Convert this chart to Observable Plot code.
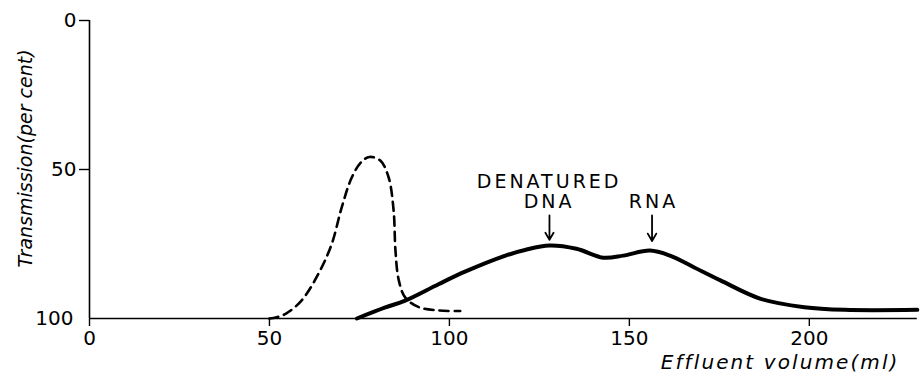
<!DOCTYPE html>
<html>
<head>
<meta charset="utf-8">
<script src="https://cdn.jsdelivr.net/npm/d3@7"></script>
<script src="https://cdn.jsdelivr.net/npm/@observablehq/plot@0.6"></script>
<style>
  html, body { margin: 0; padding: 0; background: #fff; }
  #chart { width: 922px; height: 380px; }
  svg { font-family: "DejaVu Sans", sans-serif; }
  [aria-label="peak-labels"], [aria-label="peak-labels"] text, [aria-label="peak-labels"] tspan { letter-spacing: 3px; }
  [aria-label="x-title"], [aria-label="x-title"] text, [aria-label="x-title"] tspan { letter-spacing: 2.1px; }
</style>
</head>
<body>
<div id="chart"></div>
<script>
// Dashed curve (native / undenatured component)
const dashedX = [50, 52, 54.7, 58.9, 63.6, 67.3, 70.1, 72.9, 75.5, 77.8, 80.8, 83.1, 84.5, 85.0, 85.9, 87.7, 91.5, 97, 103];
const dashedY = [100, 99.6, 98.3, 94, 85, 75, 62.6, 52.6, 47.5, 45.8, 47, 52.6, 63.8, 77, 87, 92.9, 96.2, 97.3, 97.5];

// Solid curve (denatured DNA + RNA)
const solidX = [74.3, 82.2, 87.7, 97.1, 104.5, 115.6, 121, 127.8, 135.3, 142.7, 148.3, 155.7, 161.3, 167.9, 175.3, 186.5, 198.6, 209.8, 230];
const solidY = [100, 96.3, 94, 88.4, 84.2, 78.9, 77, 75.5, 76.6, 79.6, 78.9, 77.2, 78.9, 82.8, 87.2, 93.4, 96.2, 97.1, 97.1];

// Axis ticks
const xTicks = [0, 50, 100, 150, 200];
const yTicks = [0, 50, 100];

// Annotations
const annotLabels = [
  {x: 127.7, y: 62.8, text: "DENATURED\nDNA"},
  {x: 156.7, y: 62.8, text: "RNA"}
];
const arrows = [
  {x: 127.8, y1: 65.4, y2: 73.6},
  {x: 156.3, y1: 65.4, y2: 74.0}
];

const dashed = dashedX.map((x, i) => ({x, y: dashedY[i]}));
const solid = solidX.map((x, i) => ({x, y: solidY[i]}));

const plot = Plot.plot({
  width: 922,
  height: 380,
  marginLeft: 89,
  marginTop: 20,
  marginBottom: 62,
  marginRight: 7,
  style: {fontSize: "20px", color: "#000", background: "#fff"},
  x: {domain: [0, 229.5]},
  y: {domain: [0, 100], reverse: true},
  marks: [
    Plot.ruleY([100], {stroke: "#000", strokeWidth: 1.6, x1: 0, x2: 230}),
    Plot.ruleX([0], {stroke: "#000", strokeWidth: 1.6}),
    Plot.axisX({ticks: xTicks, tickSize: 8, tickPadding: 4, label: null, fontSize: 20, strokeWidth: 1.4}),
    Plot.axisY({ticks: yTicks.filter(d => d < 100), tickSize: 10, tickPadding: 3, label: null, fontSize: 20, strokeWidth: 1.4}),
    Plot.axisY({ticks: yTicks.filter(d => d === 100), tickSize: 0, tickPadding: 16, label: null, fontSize: 20}),
    Plot.line(dashed, {x: "x", y: "y", curve: "catmull-rom", stroke: "#000", strokeWidth: 2.6, strokeDasharray: "9,6"}),
    Plot.line(solid, {x: "x", y: "y", curve: "catmull-rom", stroke: "#000", strokeWidth: 4}),
    Plot.text(annotLabels, {x: "x", y: "y", text: "text", fontSize: 19, lineHeight: 1.05, lineAnchor: "bottom", textAnchor: "middle", fill: "#000", ariaLabel: () => "peak-labels"}),
    Plot.arrow(arrows, {x: "x", y1: "y1", y2: "y2", stroke: "#000", strokeWidth: 1.8, headLength: 10, headAngle: 60}),
    Plot.text(["Transmission(per cent)"], {frameAnchor: "left", dx: -64, dy: -11, rotate: -90, fontSize: 19, fontStyle: "italic", fill: "#000", textAnchor: "middle"}),
    Plot.text(["Effluent volume(ml)"], {frameAnchor: "bottom-right", dx: -16, dy: 50, fontSize: 20, fontStyle: "italic", fill: "#000", textAnchor: "end", ariaLabel: () => "x-title"})
  ]
});
document.getElementById("chart").appendChild(plot);
</script>
</body>
</html>
